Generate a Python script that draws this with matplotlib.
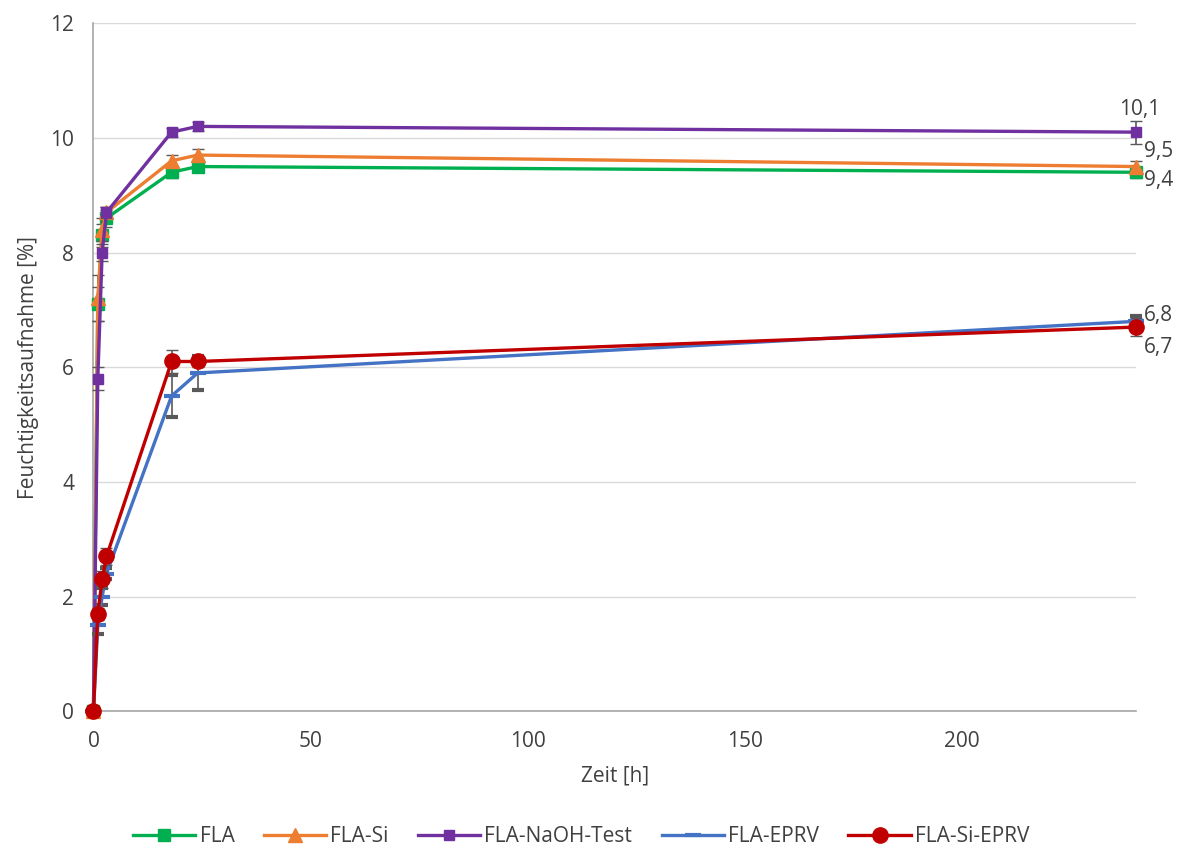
import numpy as np
from matplotlib import pyplot as plt
from matplotlib.lines import Line2D

plt.rcParams['font.family'] = ['Open Sans', 'DejaVu Sans']

zeit = [0, 1, 2, 3, 18, 24, 240]

fla = [0, 7.1, 8.3, 8.6, 9.4, 9.5, 9.4]
fla_err = [0, 0.3, 0.2, 0.15, 0.1, 0.1, 0.1]
fla_si = [0, 7.2, 8.4, 8.7, 9.6, 9.7, 9.5]
fla_si_err = [0, 0.4, 0.2, 0.1, 0.1, 0.1, 0.1]
fla_naoh = [0, 5.8, 8.0, 8.7, 10.1, 10.2, 10.1]
fla_naoh_err = [0, 0.2, 0.15, 0.1, 0.08, 0.08, 0.2]
fla_eprv = [0, 1.5, 2.0, 2.4, 5.5, 5.9, 6.8]
fla_eprv_err = [0, 0.15, 0.15, 0.1, 0.37, 0.3, 0.1]
fla_si_eprv = [0, 1.7, 2.3, 2.7, 6.1, 6.1, 6.7]
fla_si_eprv_err = [0, 0.1, 0.15, 0.15, 0.2, 0.1, 0.15]

names = ["FLA", "FLA-Si", "FLA-NaOH-Test", "FLA-EPRV", "FLA-Si-EPRV"]
end_labels = ["9,4", "9,5", "10,1", "6,8", "6,7"]

fig, ax = plt.subplots(figsize=(11.83, 8.59), dpi=100)
fig.subplots_adjust(left=0.079, right=0.96, top=0.973, bottom=0.172)

series = [fla, fla_si, fla_naoh, fla_eprv, fla_si_eprv]
errors = [fla_err, fla_si_err, fla_naoh_err, fla_eprv_err, fla_si_eprv_err]
colors = ["#00B050", "#ED7D31", "#7030A0", "#4472C4", "#C00000"]
markers = ["s", "^", "s", "_", "o"]
msizes = [9, 10, 7, 12, 11]
label_offsets = [(6, -6), (6, 11), (-12, 16), (6, 4), (6, -15)]

handles = []
for i in range(len(series)):
    mew = 3 if markers[i] == "_" else 1
    ax.errorbar(zeit, series[i], yerr=errors[i], color=colors[i], marker=markers[i],
                markersize=msizes[i], markeredgewidth=mew,
                linewidth=2.4, ecolor="#595959", elinewidth=1.2, capsize=4,
                clip_on=False, zorder=3 + i)
    ax.annotate(end_labels[i], (zeit[-1], series[i][-1]), xytext=label_offsets[i],
                textcoords="offset points", fontsize=15, color="#404040",
                ha="left", va="center", annotation_clip=False)
    handles.append(Line2D([], [], color=colors[i], marker=markers[i], markersize=msizes[i],
                          markeredgewidth=mew, linewidth=2.4, label=names[i]))

ax.set_xlim(0, 240)
ax.set_ylim(0, 12)
ax.set_xticks([0, 50, 100, 150, 200])
ax.set_yticks(np.arange(0, 13, 2))
ax.tick_params(length=0, labelsize=15, colors="#404040")
ax.tick_params(axis="x", pad=14)
ax.tick_params(axis="y", pad=14)
ax.grid(axis="y", color="#D9D9D9", linewidth=1)
ax.set_axisbelow(True)
for s in ["top", "right"]:
    ax.spines[s].set_visible(False)
ax.spines["left"].set_color("#A6A6A6")
ax.spines["bottom"].set_color("#A6A6A6")
ax.spines["left"].set_linewidth(1.2)
ax.spines["bottom"].set_linewidth(1.2)

ax.set_xlabel("Zeit [h]", fontsize=15, color="#404040", labelpad=10)
ax.set_ylabel("Feuchtigkeitsaufnahme [%]", fontsize=15, color="#404040", labelpad=8)

ax.legend(handles=handles, loc="lower center", bbox_to_anchor=(0.468, -0.225), ncol=5,
          frameon=False, fontsize=15, handlelength=3, handletextpad=0.2,
          columnspacing=1.4, labelcolor="#404040")

plt.savefig("out.png")
